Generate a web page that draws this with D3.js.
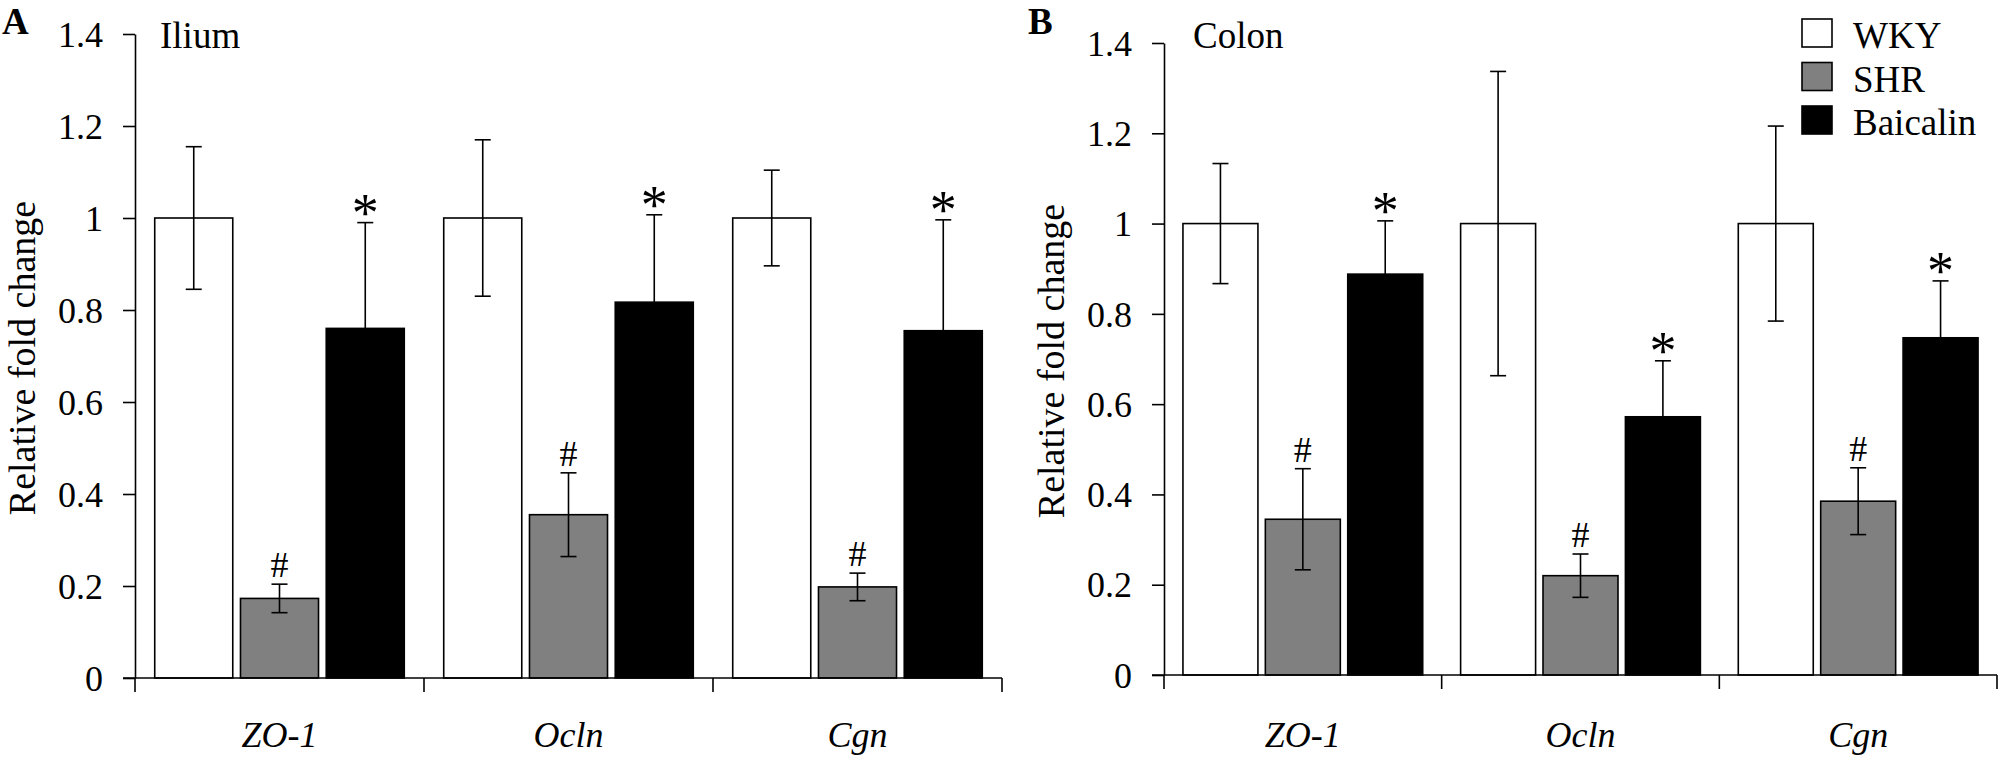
<!DOCTYPE html>
<html>
<head>
<meta charset="utf-8">
<script src="https://cdn.jsdelivr.net/npm/d3@7/dist/d3.min.js"></script>
<style>
	html, body { margin: 0; padding: 0; background: #fff; }
	svg { display: block; }
	svg text { font-family: "Liberation Serif", "Times New Roman", serif; fill: #000; }
</style>
</head>
<body>
<svg id="chart" width="2008" height="760" font-family="Liberation Serif, serif"></svg>
<script>
// categories and groups
var genes = ["ZO-1", "Ocln", "Cgn"];
var groups = ["WKY", "SHR", "Baicalin"];
var groupFill = ["#ffffff", "#808080", "#000000"];
var groupMark = ["", "#", "*"];
var yTicks = [0, 0.2, 0.4, 0.6, 0.8, 1, 1.2, 1.4];

// Ilium (panel A): means and error per gene
var iliumWKY = [1.0, 1.0, 1.0];
var iliumWKYErr = [0.155, 0.17, 0.104];
var iliumSHR = [0.173, 0.355, 0.198];
var iliumSHRErr = [0.031, 0.091, 0.03];
var iliumBai = [0.76, 0.817, 0.755];
var iliumBaiErr = [0.23, 0.19, 0.241];

// Colon (panel B)
var colonWKY = [1.0, 1.0, 1.0];
var colonWKYErr = [0.133, 0.337, 0.216];
var colonSHR = [0.345, 0.22, 0.385];
var colonSHRErr = [0.112, 0.048, 0.074];
var colonBai = [0.888, 0.572, 0.747];
var colonBaiErr = [0.118, 0.124, 0.126];

var SERIF = "'Liberation Serif', 'Times New Roman', serif";
var svg = d3.select("#chart");

function buildPanel(opts) {
	var g = svg.append("g").attr("class", "panel");

	var x = d3.scaleBand()
		.domain(genes)
		.range([opts.x0, opts.x1])
		.padding(0);

	var xInner = d3.scaleBand()
		.domain(groups)
		.range([0, x.bandwidth()])
		.paddingInner(0.09)
		.paddingOuter(0.23);

	var y = d3.scaleLinear()
		.domain([0, 1.4])
		.range([opts.y0, opts.y1]);

	// rows: one per gene x group
	var rows = [];
	genes.forEach(function(gene, i) {
		groups.forEach(function(grp, j) {
			rows.push({
				gene: gene,
				group: grp,
				gi: j,
				value: opts.means[j][i],
				err: opts.errs[j][i]
			});
		});
	});

	// Bars
	g.append("g")
		.attr("class", "bars")
		.selectAll("rect")
		.data(rows)
		.enter()
		.append("rect")
		.attr("x", (d) => x(d.gene) + xInner(d.group))
		.attr("y", (d) => y(d.value))
		.attr("width", xInner.bandwidth())
		.attr("height", (d) => y(0) - y(d.value))
		.style("fill", (d) => groupFill[d.gi])
		.style("stroke", "#000")
		.style("stroke-width", 1.6);

	// Error bars
	var eb = g.append("g")
		.attr("class", "errors")
		.selectAll("g")
		.data(rows)
		.enter()
		.append("g")
		.attr("transform", (d) => "translate(" + (x(d.gene) + xInner(d.group) + xInner.bandwidth() / 2) + ",0)");

	eb.append("line")
		.attr("y1", (d) => y(d.value - d.err))
		.attr("y2", (d) => y(d.value + d.err))
		.style("stroke", "#000")
		.style("stroke-width", 1.6);

	[1, -1].forEach(function(sign) {
		eb.append("line")
			.attr("x1", -8)
			.attr("x2", 8)
			.attr("y1", (d) => y(d.value + sign * d.err))
			.attr("y2", (d) => y(d.value + sign * d.err))
			.style("stroke", "#000")
			.style("stroke-width", 1.6);
	});

	// Significance marks
	eb.filter((d) => groupMark[d.gi] !== "")
		.append("text")
		.attr("text-anchor", "middle")
		.attr("y", function(d) {
			var top = y(d.value + d.err);
			return groupMark[d.gi] === "*" ? top + 8 : top - 7;
		})
		.style("font-family", SERIF)
		.style("font-size", (d) => groupMark[d.gi] === "*" ? "54px" : "36px")
		.text((d) => groupMark[d.gi]);

	// Y axis
	var yAxis = g.append("g")
		.attr("class", "y-axis")
		.attr("transform", "translate(" + opts.x0 + ",0)")
		.call(d3.axisLeft(y)
			.tickValues(yTicks)
			.tickFormat(d3.format("~g"))
			.tickSize(12)
			.tickSizeOuter(0)
			.tickPadding(20));

	yAxis.attr("font-family", null).attr("font-size", null);
	yAxis.select(".domain").style("stroke", "#000").style("stroke-width", 1.6);
	yAxis.selectAll(".tick line").style("stroke", "#000").style("stroke-width", 1.6);
	yAxis.selectAll(".tick text")
		.style("font-family", SERIF)
		.style("font-size", "36px")
		.attr("dy", "0.34em");

	// X axis: base line with boundary ticks pointing down
	var xAxis = g.append("g").attr("class", "x-axis");
	xAxis.append("line")
		.attr("x1", opts.x0 - 12)
		.attr("x2", opts.x1)
		.attr("y1", y(0))
		.attr("y2", y(0))
		.style("stroke", "#000")
		.style("stroke-width", 1.6);

	var bounds = genes.map((d) => x(d)).concat([opts.x1]);
	xAxis.selectAll(".xtick")
		.data(bounds)
		.enter()
		.append("line")
		.attr("class", "xtick")
		.attr("x1", (d) => d)
		.attr("x2", (d) => d)
		.attr("y1", y(0))
		.attr("y2", y(0) + 14)
		.style("stroke", "#000")
		.style("stroke-width", 1.6);

	xAxis.selectAll(".xlabel")
		.data(genes)
		.enter()
		.append("text")
		.attr("class", "xlabel")
		.attr("x", (d) => x(d) + x.bandwidth() / 2)
		.attr("y", 747)
		.attr("text-anchor", "middle")
		.style("font-family", SERIF)
		.style("font-size", "36px")
		.style("font-style", "italic")
		.text((d) => d);

	// Y label
	g.append("text")
		.attr("transform", "translate(" + (opts.x0 - 100) + "," + ((opts.y0 + opts.y1) / 2 + 2) + ") rotate(-90)")
		.attr("text-anchor", "middle")
		.style("font-family", SERIF)
		.style("font-size", "38px")
		.text("Relative fold change");

	// Tissue title and panel letter
	g.append("text")
		.attr("x", opts.x0 + opts.titleDx)
		.attr("y", 48)
		.style("font-family", SERIF)
		.style("font-size", "37px")
		.text(opts.title);

	g.append("text")
		.attr("x", opts.letterX)
		.attr("y", 34)
		.style("font-family", SERIF)
		.style("font-size", "37px")
		.style("font-weight", "bold")
		.text(opts.letter);

	return g;
}

buildPanel({
	x0: 135, x1: 1002, y0: 678, y1: 34,
	means: [iliumWKY, iliumSHR, iliumBai],
	errs: [iliumWKYErr, iliumSHRErr, iliumBaiErr],
	title: "Ilium", titleDx: 25,
	letter: "A", letterX: 2
});

buildPanel({
	x0: 1164, x1: 1997, y0: 675, y1: 43,
	means: [colonWKY, colonSHR, colonBai],
	errs: [colonWKYErr, colonSHRErr, colonBaiErr],
	title: "Colon", titleDx: 29,
	letter: "B", letterX: 1028
});

// Legend
var legend = svg.append("g")
	.attr("class", "legend")
	.selectAll("g")
	.data(groups)
	.enter()
	.append("g")
	.attr("transform", (d, i) => "translate(1802," + (19 + i * 43.5) + ")");

legend.append("rect")
	.attr("width", 30)
	.attr("height", 28)
	.style("fill", (d, i) => groupFill[i])
	.style("stroke", "#000")
	.style("stroke-width", 1.6);

legend.append("text")
	.attr("x", 51)
	.attr("y", 29)
	.style("font-family", SERIF)
	.style("font-size", "37px")
	.text((d) => d);
</script>
</body>
</html>
